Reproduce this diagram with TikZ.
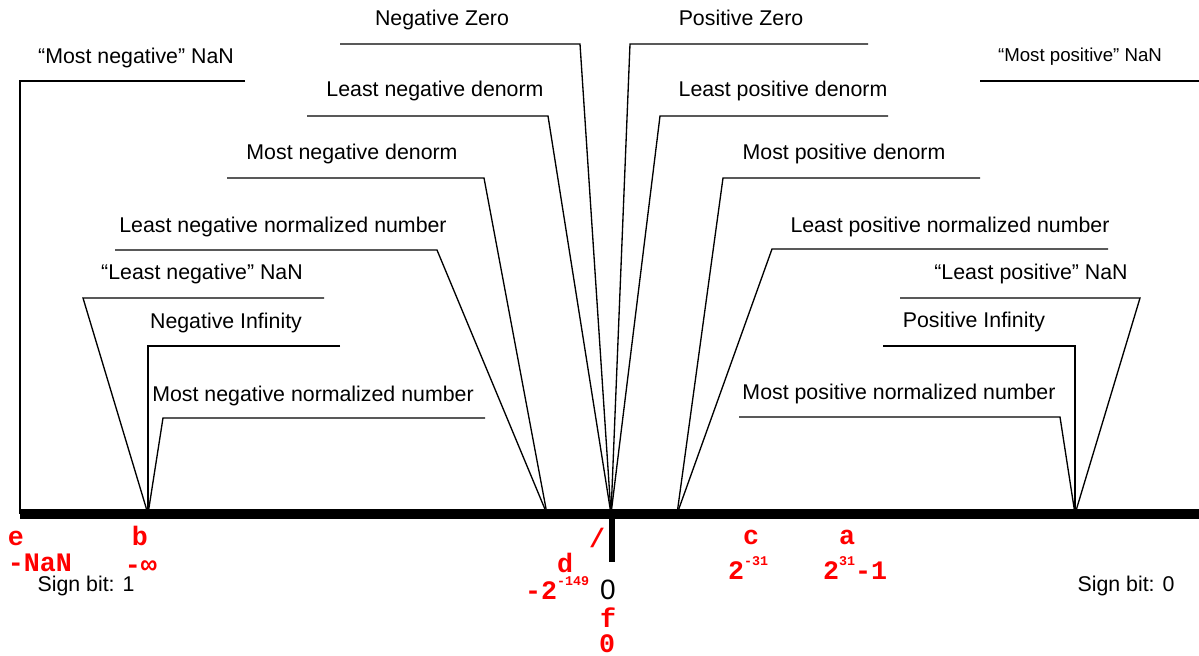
\documentclass[tikz,border=0pt]{standalone}
\usepackage{fontspec}
\setmainfont{Liberation Sans}
\newfontfamily\codefont{Liberation Mono}
\tikzset{
  lbl/.style={anchor=base,inner sep=0pt,font=\fontsize{16}{19}\selectfont},
  smalllbl/.style={lbl,font=\fontsize{14}{17}\selectfont},
  code/.style={anchor=base,inner sep=0pt,text=red,
    font=\codefont\bfseries\fontsize{20}{24}\selectfont},
  lead/.style={line width=1pt,line join=miter},
}
\newcommand{\supnum}[1]{\raisebox{10pt}{\fontsize{10}{12}\selectfont #1}}
\begin{document}
\begin{tikzpicture}[x=0.75pt,y=-0.75pt]
  \useasboundingbox (0,0) rectangle (1199,656);
  % points on the number line
  \coordinate (nanN) at (20,514);
  \coordinate (infN) at (148,514);
  \coordinate (normN) at (547,514);
  \coordinate (zero) at (611,514);
  \coordinate (normP) at (677,514);
  \coordinate (infP) at (1075,514);
  \coordinate (lineE) at (1199,514);
  % free ends of the leaders
  \coordinate (mnnan) at (245,81);
  \coordinate (negz) at (340,44);
  \coordinate (lnden) at (307,116);
  \coordinate (mnden) at (227,178);
  \coordinate (lnnorm) at (115,250);
  \coordinate (lnnan) at (324,298);
  \coordinate (ninf) at (340,346);
  \coordinate (mnnorm) at (485,418);
  \coordinate (posz) at (868,44);
  \coordinate (lpden) at (888,116);
  \coordinate (mpden) at (980,178);
  \coordinate (lpnorm) at (1108,249);
  \coordinate (lpnan) at (900,298);
  \coordinate (pinf) at (883,346);
  \coordinate (mpnorm) at (739,417);
  \coordinate (mpnan) at (980,81);
  \coordinate (mpnanE) at (1199,81);

  \node[lbl] (tmnnan) at (136,64) {“Most negative” NaN};
  \node[lbl] (tnegz) at (442,26) {Negative Zero};
  \node[lbl] (tlnden) at (435,97) {Least negative denorm};
  \node[lbl] (tmnden) at (352,160) {Most negative denorm};
  \node[lbl] (tlnnorm) at (283,232) {Least negative normalized number};
  \node[lbl] (tlnnan) at (202,279) {“Least negative” NaN};
  \node[lbl] (tninf) at (226,328) {Negative Infinity};
  \node[lbl] (tmnnorm) at (313,401) {Most negative normalized number};
  \node[lbl] (tposz) at (741,26) {Positive Zero};
  \node[lbl] (tlpden) at (783,97) {Least positive denorm};
  \node[lbl] (tmpden) at (844,160) {Most positive denorm};
  \node[lbl] (tlpnorm) at (950,232) {Least positive normalized number};
  \node[lbl] (tlpnan) at (1031,279) {“Least positive” NaN};
  \node[lbl] (tpinf) at (974,327) {Positive Infinity};
  \node[lbl] (tmpnorm) at (899,399) {Most positive normalized number};
  \node[smalllbl] (tmpnan) at (1080,62) {“Most positive” NaN};

  \draw[lead] (mnnan) -- (20,81) -- (nanN);
  \draw[lead] (negz) -- ++(240,0) -- (zero);
  \draw[lead] (lnden) -- ++(241,0) -- (zero);
  \draw[lead] (mnden) -- ++(257,0) -- (normN);
  \draw[lead] (lnnorm) -- ++(322,0) -- (normN);
  \draw[lead] (lnnan) -- ++(-241,0) -- (infN);
  \draw[lead] (ninf) -- (148,346) -- (infN);
  \draw[lead] (mnnorm) -- ++(-322,0) -- (infN);
  \draw[lead] (posz) -- ++(-238,0) -- (zero);
  \draw[lead] (lpden) -- ++(-228,0) -- (zero);
  \draw[lead] (mpden) -- ++(-257,0) -- (normP);
  \draw[lead] (lpnorm) -- ++(-336,0) -- (normP);
  \draw[lead] (lpnan) -- ++(240,0) -- (infP);
  \draw[lead] (pinf) -- (1075,346) -- (infP);
  \draw[lead] (mpnorm) -- ++(321,0) -- (infP);
  \draw[lead] (mpnan) -- (mpnanE);

  % the number line
  \draw[line width=7.5pt] (nanN) -- (lineE);
  \draw[line width=4.5pt] (612,514) -- (612,562);

  \node[code] (ce) at (16,545) {e};
  \node[code] (cnan) at (40,571) {-NaN};
  \node[code] (cb) at (140,545) {b};
  \node[code] (cinf) at (141,573) {-∞};
  \node[code] (cslash) at (597,547) {/};
  \node[code] (cd) at (565,572) {d};
  \node[code] (cden) at (557,599) {-2\supnum{-149}};
  \node[code] (cf) at (608,627) {f};
  \node[code] (czero) at (607,652) {0};
  \node[code] (cc) at (751,544) {c};
  \node[code] (cmin) at (748,579) {2\supnum{-31}};
  \node[code] (ca) at (847,544) {a};
  \node[code] (cmax) at (855,579) {2\supnum{31}-1};
  \node[anchor=base,inner sep=0pt,font=\fontsize{21}{25}\selectfont] (zlbl) at (608,599) {0};
  \node[lbl] (sign1) at (86,591) {Sign bit: 1};
  \node[lbl] (sign0) at (1126,591) {Sign bit: 0};
\end{tikzpicture}
\end{document}
